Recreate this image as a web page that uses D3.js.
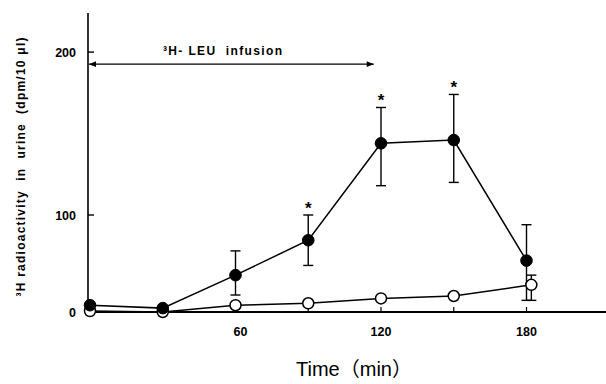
<!DOCTYPE html>
<html><head><meta charset="utf-8">
<script src="https://cdn.jsdelivr.net/npm/d3@7"></script>
<style>body{margin:0;background:#fff}svg{display:block}</style>
</head><body>
<script>
// ---- data ----
const timesFilled = [0, 30, 60, 90, 120, 150, 180];
const valuesFilled = [7, 4, 38, 74, 144, 146, 53];
const errHighFilled = [null, null, 63, 100, 166, 174, 90];
const errLowFilled = [null, null, 17.5, 48, 118, 120, 12];
const starred = [false, false, false, true, true, true, false];

const timesOpen = [0, 30, 60, 90, 120, 150, 182];
const valuesOpen = [1, 0, 7, 9, 14, 16.5, 28];
const errHighOpen = [null, null, null, null, null, null, 38];
const errLowOpen = [null, null, null, null, null, null, 12];

const xTickLabels = [60, 120, 180];
const xTicksMinor = [30, 60, 90, 120, 150, 180];
const yTickLabels = [0, 100, 200];
const infusion = {start: 0, end: 117, level: 192.6, label: "³H- LEU  infusion"};

// ---- drawing ----
const W = 606, H = 384;
const svg = d3.select("body").append("svg").attr("width", W).attr("height", H);

const x = d3.scaleLinear().domain([0, 180]).range([90, 526.5]);
const y = d3.scaleLinear().domain([0, 100, 224]).range([312, 215, 13]);
const axisX0 = 88;

const font = "'Liberation Sans', Arial, sans-serif";

// y axis line
svg.append("line").attr("x1", axisX0).attr("x2", axisX0).attr("y1", y(224)).attr("y2", y(0))
  .attr("stroke", "#000").attr("stroke-width", 1.6);
// x axis line
svg.append("line").attr("x1", axisX0).attr("x2", 606).attr("y1", y(0)).attr("y2", y(0))
  .attr("stroke", "#000").attr("stroke-width", 2);

// y ticks + labels
yTickLabels.forEach(v => {
  if (v > 0) svg.append("line").attr("x1", axisX0).attr("x2", axisX0 + 6).attr("y1", y(v)).attr("y2", y(v))
    .attr("stroke", "#000").attr("stroke-width", 1.4);
  svg.append("text").attr("x", 76).attr("y", y(v)).attr("dy", "0.36em")
    .attr("text-anchor", "end").attr("font-family", font).attr("font-weight", "bold")
    .attr("font-size", 12.5).text(v);
});

// x ticks
xTicksMinor.forEach(t => {
  svg.append("line").attr("x1", x(t)).attr("x2", x(t)).attr("y1", y(0)).attr("y2", y(0) - 5)
    .attr("stroke", "#000").attr("stroke-width", 1.2);
});
xTickLabels.forEach(t => {
  svg.append("text").attr("x", x(t) + (t === 60 ? 5 : 0)).attr("y", 336)
    .attr("text-anchor", "middle").attr("font-family", font).attr("font-weight", "bold")
    .attr("font-size", 12.5).text(t);
});

// axis titles
svg.append("text").attr("transform", "translate(25,167) rotate(-90)")
  .attr("text-anchor", "middle").attr("font-family", font).attr("font-weight", "bold")
  .attr("font-size", 12).attr("textLength", 259).attr("lengthAdjust", "spacing")
  .style("white-space", "pre")
  .text("³H radioactivity  in  urine  (dpm/10 μl)");
svg.append("text").attr("x", 354).attr("y", 376)
  .attr("text-anchor", "middle").attr("font-family", "'Liberation Sans', 'Noto Sans CJK JP', sans-serif")
  .attr("font-size", 20)
  .text("Time（min）");

// infusion arrow
const defs = svg.append("defs");
["start", "end"].forEach(id => {
  defs.append("marker").attr("id", "arr-" + id).attr("viewBox", "0 0 10 10")
    .attr("refX", id === "end" ? 10 : 0).attr("refY", 5).attr("markerWidth", 9).attr("markerHeight", 7)
    .attr("markerUnits", "userSpaceOnUse").attr("orient", "auto")
    .append("path").attr("d", id === "end" ? "M0,1 L10,5 L0,9 Z" : "M10,1 L0,5 L10,9 Z").attr("fill", "#000");
});
svg.append("line").attr("x1", axisX0 + 1).attr("x2", x(infusion.end))
  .attr("y1", y(infusion.level)).attr("y2", y(infusion.level))
  .attr("stroke", "#000").attr("stroke-width", 1.3)
  .attr("marker-start", "url(#arr-start)").attr("marker-end", "url(#arr-end)");
svg.append("text").attr("x", 163).attr("y", 55).attr("font-family", font).attr("font-weight", "bold")
  .attr("font-size", 12).attr("textLength", 119).attr("lengthAdjust", "spacing")
  .style("white-space", "pre").text(infusion.label);

// lines
const line = d3.line().x(d => x(d[0])).y(d => y(d[1]));
svg.append("path").datum(d3.zip(timesOpen, valuesOpen)).attr("d", line)
  .attr("fill", "none").attr("stroke", "#000").attr("stroke-width", 1.5);
svg.append("path").datum(d3.zip(timesFilled, valuesFilled)).attr("d", line)
  .attr("fill", "none").attr("stroke", "#000").attr("stroke-width", 1.5);

// error bars
function errorBars(times, hi, lo) {
  times.forEach((t, i) => {
    if (hi[i] == null) return;
    const cx = x(t);
    const g = svg.append("g").attr("stroke", "#000").attr("stroke-width", 1.4);
    g.append("line").attr("x1", cx).attr("x2", cx).attr("y1", y(hi[i])).attr("y2", y(lo[i]));
    g.append("line").attr("x1", cx - 5).attr("x2", cx + 5).attr("y1", y(hi[i])).attr("y2", y(hi[i]));
    g.append("line").attr("x1", cx - 5).attr("x2", cx + 5).attr("y1", y(lo[i])).attr("y2", y(lo[i]));
  });
}
errorBars(timesFilled, errHighFilled, errLowFilled);
errorBars(timesOpen, errHighOpen, errLowOpen);

// points
svg.selectAll(".open").data(d3.zip(timesOpen, valuesOpen)).enter().append("circle")
  .attr("cx", d => x(d[0])).attr("cy", d => y(d[1])).attr("r", 5.5)
  .attr("fill", "#fff").attr("stroke", "#000").attr("stroke-width", 1.5);
svg.selectAll(".filled").data(d3.zip(timesFilled, valuesFilled)).enter().append("circle")
  .attr("cx", d => x(d[0])).attr("cy", d => y(d[1])).attr("r", 5.8)
  .attr("fill", "#000").attr("stroke", "#000").attr("stroke-width", 1);

// significance asterisks
timesFilled.forEach((t, i) => {
  if (!starred[i]) return;
  svg.append("text").attr("x", x(t)).attr("y", y(errHighFilled[i]) - 1)
    .attr("text-anchor", "middle").attr("font-family", font).attr("font-weight", "bold")
    .attr("font-size", 17).text("*");
});
</script>
</body></html>
